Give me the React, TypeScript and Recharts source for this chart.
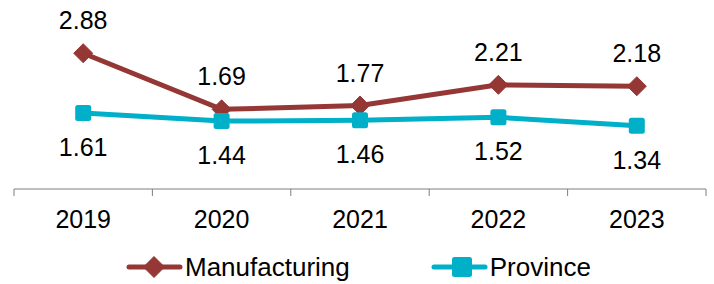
import { LineChart, Line, XAxis, YAxis, Legend, LabelList } from 'recharts'

const years = ['2019', '2020', '2021', '2022', '2023']
const manufacturing = [2.88, 1.69, 1.77, 2.21, 2.18]
const province = [1.61, 1.44, 1.46, 1.52, 1.34]

const data = years.map((year, i) => ({
  year,
  manufacturing: manufacturing[i],
  province: province[i],
}))

const RED = '#953735'
const TEAL = '#00AFC8'
const FONT = "Arial, 'Liberation Sans', sans-serif"

function Diamond({ cx, cy, size = 19, color = RED }: { cx?: number; cy?: number; size?: number; color?: string }) {
  if (cx == null || cy == null) return null
  const h = size / 2
  return (
    <path
      d={`M${cx},${cy - h} L${cx + h},${cy} L${cx},${cy + h} L${cx - h},${cy} Z`}
      fill={color}
      stroke={color}
      strokeWidth={1}
      strokeLinejoin="round"
    />
  )
}

function Square({ cx, cy, size = 16, color = TEAL }: { cx?: number; cy?: number; size?: number; color?: string }) {
  if (cx == null || cy == null) return null
  return <rect x={cx - size / 2} y={cy - size / 2} width={size} height={size} rx={2.5} fill={color} />
}

function YearTick({ x, y, payload, index }: any) {
  const half = payload?.offset ?? 69.2
  return (
    <g>
      <line x1={x - half} x2={x - half} y1={y} y2={y + 7} stroke="#7f7f7f" strokeWidth={1} />
      {index === years.length - 1 && (
        <line x1={x + half} x2={x + half} y1={y} y2={y + 7} stroke="#7f7f7f" strokeWidth={1} />
      )}
      <text x={x} y={y + 39} textAnchor="middle" fontSize={25} fontFamily={FONT} fill="#000">
        {payload.value}
      </text>
    </g>
  )
}

const aboveLabel = ({ x, y, value }: any) => (
  <text x={x} y={y - 24} textAnchor="middle" fontSize={25} fontFamily={FONT} fill="#000">
    {Number(value).toFixed(2)}
  </text>
)

const belowLabel = ({ x, y, value }: any) => (
  <text x={x} y={y + 43} textAnchor="middle" fontSize={25} fontFamily={FONT} fill="#000">
    {Number(value).toFixed(2)}
  </text>
)

function LegendContent() {
  const items = [
    { name: 'Manufacturing', color: RED, shape: 'diamond' },
    { name: 'Province', color: TEAL, shape: 'square' },
  ]
  // legend wrapper already starts at margin.left (14)
  return (
    <div style={{ height: 45, paddingTop: 17, paddingLeft: 112, boxSizing: 'border-box', display: 'flex', fontFamily: FONT }}>
      {items.map((it, i) => (
        <div key={it.name} style={{ display: 'flex', alignItems: 'center', height: 22, marginRight: i === 0 ? 81 : 0 }}>
          <svg width={57} height={26} style={{ display: 'block' }}>
            <line x1={3} x2={54} y1={13} y2={13} stroke={it.color} strokeWidth={5} strokeLinecap="round" />
            {it.shape === 'diamond' ? (
              <Diamond cx={28} cy={13} size={21} color={it.color} />
            ) : (
              <Square cx={31} cy={13} size={20} color={it.color} />
            )}
          </svg>
          <span style={{ fontSize: 26, marginLeft: 2, color: '#000', lineHeight: '22px' }}>{it.name}</span>
        </div>
      ))}
    </div>
  )
}

export default function App() {
  return (
    <div style={{ position: 'absolute', left: 0, top: 0, width: 714, height: 284, background: '#fff' }}>
      <LineChart width={714} height={284} data={data} margin={{ top: 24, right: 8, bottom: 0, left: 14 }}>
        <XAxis
          dataKey="year"
          scale="band"
          height={50}
          tickSize={0}
          tickMargin={0}
          tickLine={false}
          axisLine={{ stroke: '#7f7f7f', strokeWidth: 1 }}
          tick={<YearTick />}
          interval={0}
        />
        <YAxis hide domain={[0, 3.5]} />
        <Legend verticalAlign="bottom" content={<LegendContent />} />
        <Line
          dataKey="manufacturing"
          stroke={RED}
          strokeWidth={5}
          dot={<Diamond />}
          isAnimationActive={false}
        >
          <LabelList dataKey="manufacturing" content={aboveLabel} />
        </Line>
        <Line
          dataKey="province"
          stroke={TEAL}
          strokeWidth={5}
          dot={<Square />}
          isAnimationActive={false}
        >
          <LabelList dataKey="province" content={belowLabel} />
        </Line>
      </LineChart>
    </div>
  )
}
